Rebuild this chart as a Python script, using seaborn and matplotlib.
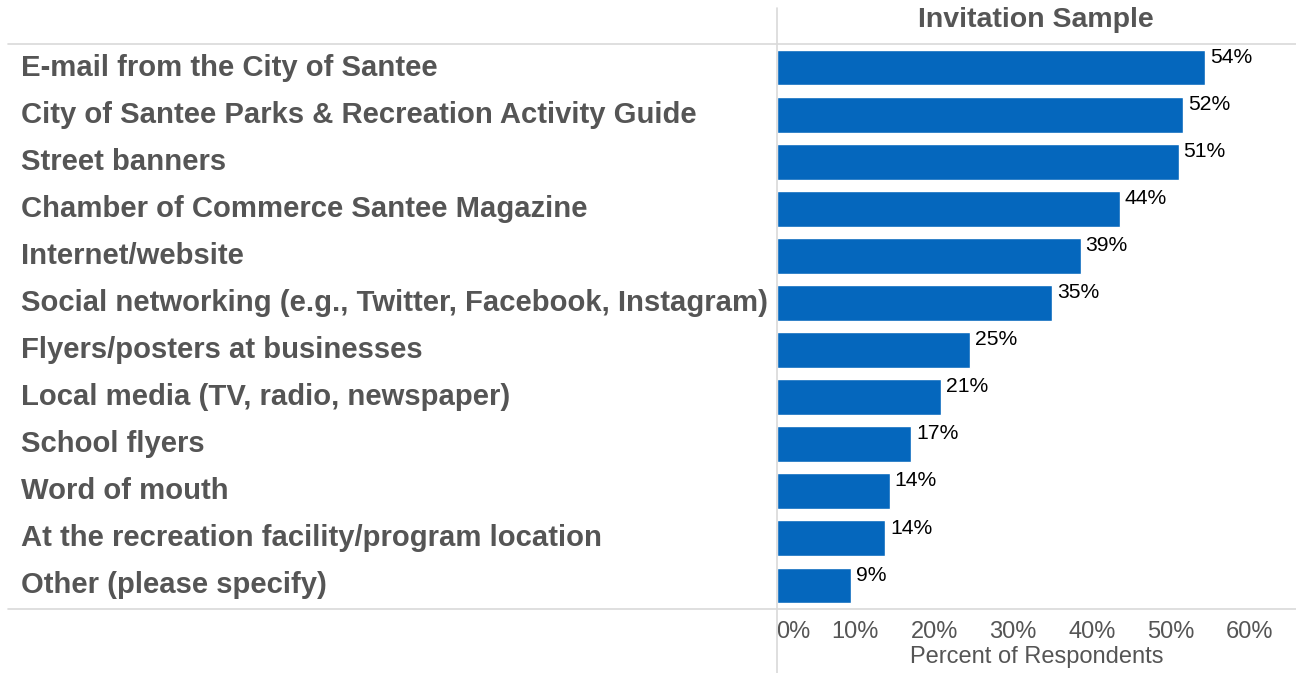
import numpy as np
import pandas as pd
import matplotlib
matplotlib.use("Agg")
import matplotlib.pyplot as plt
import matplotlib.transforms as mtransforms
from matplotlib.lines import Line2D
import seaborn as sns

sources = [
    "E-mail from the City of Santee",
    "City of Santee Parks & Recreation Activity Guide",
    "Street banners",
    "Chamber of Commerce Santee Magazine",
    "Internet/website",
    "Social networking (e.g., Twitter, Facebook, Instagram)",
    "Flyers/posters at businesses",
    "Local media (TV, radio, newspaper)",
    "School flyers",
    "Word of mouth",
    "At the recreation facility/program location",
    "Other (please specify)",
]
percents = [54.4, 51.6, 51.0, 43.6, 38.6, 35.0, 24.6, 20.9, 17.1, 14.4, 13.8, 9.5]
value_labels = ["54%", "52%", "51%", "44%", "39%", "35%", "25%", "21%", "17%", "14%", "14%", "9%"]
x_ticks = [0, 10, 20, 30, 40, 50, 60]
x_tick_labels = ["0%", "10%", "20%", "30%", "40%", "50%", "60%"]

df = pd.DataFrame({"source": sources, "pct": percents})

sns.set_style("white")
plt.rcParams["font.family"] = ["Liberation Sans", "DejaVu Sans"]

W, H = 1296, 673
fig = plt.figure(figsize=(W / 100, H / 100), dpi=100)
ax = fig.add_axes([776.5 / W, 64 / H, 1 - 776.5 / W, (609 - 44) / H])

sns.barplot(data=df, y="source", x="pct", orient="h", color="#0567BD",
            width=0.76, saturation=1, ax=ax)

ax.set_xlim(0, 65.9)
ax.set_ylim(len(sources) - 0.5, -0.5)
for s in ax.spines.values():
    s.set_visible(False)

ax.set_yticks([])
ax.set_ylabel("")
ax.set_xticks(x_ticks)
ax.set_xticklabels(x_tick_labels, fontsize=17, color="#555555")
ax.tick_params(axis="x", length=4, width=1, color="#d0d0d0", pad=5, direction="out")
tl = ax.get_xticklabels()
tl[0].set_ha("left")
tl[0].set_x(0.3)
ax.xaxis.get_major_ticks()[0].tick1line.set_visible(False)
ax.set_xlabel("Percent of Respondents", fontsize=17, color="#555555", labelpad=2)

# category labels on the left
trans = mtransforms.blended_transform_factory(fig.transFigure, ax.transData)
for i, name in enumerate(sources):
    ax.text(21 / W, i, name, transform=trans, ha="left", va="center",
            fontsize=21.1, fontweight="bold", color="#555555", clip_on=False)

# value labels
for i, (v, lab) in enumerate(zip(percents, value_labels)):
    ax.text(v + 0.6, i - 0.22, lab, ha="left", va="center", fontsize=15.2, color="black")

# header
fig.text((776.5 + W) / 2 / W, 1 - 20 / H, "Invitation Sample", ha="center", va="center",
         fontsize=20.5, fontweight="bold", color="#555555")

# grid lines
line_col = "#d9d9d9"
fig.add_artist(Line2D([776.5 / W, 776.5 / W], [0, 1 - 8 / H], transform=fig.transFigure,
                      color=line_col, lw=1.2))
fig.add_artist(Line2D([8 / W, 1], [1 - 44 / H, 1 - 44 / H], transform=fig.transFigure,
                      color=line_col, lw=1.2))
fig.add_artist(Line2D([8 / W, 1], [1 - 609 / H, 1 - 609 / H], transform=fig.transFigure,
                      color=line_col, lw=1.2))

fig.savefig("out.png", dpi=100)
